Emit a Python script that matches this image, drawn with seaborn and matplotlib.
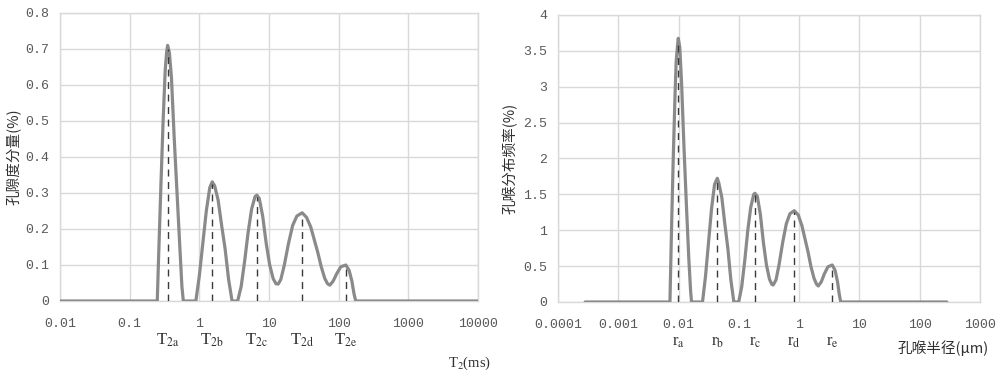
import numpy as np
import pandas as pd
import matplotlib
matplotlib.use("Agg")
import matplotlib.pyplot as plt
import matplotlib.ticker as mticker
import matplotlib.transforms as mtrans
import seaborn as sns

# ---------------- data ----------------
# Left: T2 spectrum, x given as log10(T2 / ms)
left_log_t2 = [-2.0, -0.604, -0.58, -0.55, -0.52, -0.49, -0.47, -0.455, -0.43, -0.40,
               -0.36, -0.32, -0.28, -0.25, -0.23, -0.05, 0.00, 0.05, 0.10, 0.15,
               0.185, 0.22, 0.27, 0.32, 0.37, 0.42, 0.47, 0.55, 0.60, 0.65,
               0.70, 0.75, 0.80, 0.826, 0.86, 0.91, 0.96, 1.01, 1.06, 1.10,
               1.132, 1.17, 1.22, 1.28, 1.34, 1.40, 1.476, 1.54, 1.60, 1.65,
               1.70, 1.75, 1.80, 1.84, 1.874, 1.92, 1.97, 2.03, 2.103, 2.15,
               2.19, 2.22, 2.245, 4.0]
left_vals = [0, 0, 0.15, 0.33, 0.50, 0.64, 0.69, 0.71, 0.69, 0.62,
             0.45, 0.30, 0.15, 0.04, 0, 0, 0.07, 0.16, 0.25, 0.315,
             0.331, 0.32, 0.28, 0.21, 0.145, 0.06, 0, 0, 0.04, 0.11,
             0.19, 0.255, 0.29, 0.294, 0.285, 0.235, 0.16, 0.10, 0.062, 0.048,
             0.047, 0.06, 0.10, 0.16, 0.21, 0.236, 0.245, 0.232, 0.205, 0.17,
             0.135, 0.095, 0.063, 0.048, 0.044, 0.055, 0.075, 0.095, 0.100, 0.085,
             0.055, 0.02, 0, 0]
left_peak_log = [-0.455, 0.185, 0.826, 1.476, 2.103]
left_peak_vals = [0.71, 0.331, 0.294, 0.245, 0.100]
left_peak_labels = [r"T$_{\mathrm{2a}}$", r"T$_{\mathrm{2b}}$", r"T$_{\mathrm{2c}}$",
                    r"T$_{\mathrm{2d}}$", r"T$_{\mathrm{2e}}$"]
left_xticks = [0.01, 0.1, 1, 10, 100, 1000, 10000]
left_yticks = [0, 0.1, 0.2, 0.3, 0.4, 0.5, 0.6, 0.7, 0.8]

# Right: pore-throat radius distribution, x given as log10(r / um)
right_log_r = [-3.55, -2.143, -2.12, -2.09, -2.06, -2.04, -2.02, -2.005, -1.98, -1.95,
               -1.91, -1.87, -1.83, -1.80, -1.785, -1.603, -1.553, -1.503, -1.453, -1.403,
               -1.358, -1.333, -1.283, -1.233, -1.183, -1.133, -1.083, -1.003, -0.953, -0.903,
               -0.853, -0.803, -0.753, -0.733, -0.693, -0.643, -0.593, -0.543, -0.493, -0.453,
               -0.43, -0.383, -0.333, -0.273, -0.213, -0.153, -0.081, -0.013, 0.047, 0.097,
               0.147, 0.197, 0.247, 0.287, 0.317, 0.367, 0.417, 0.477, 0.549, 0.597,
               0.637, 0.667, 0.69, 2.45]
right_vals = [0, 0, 0.9, 1.95, 2.85, 3.35, 3.55, 3.675, 3.55, 3.05,
              2.15, 1.35, 0.6, 0.15, 0, 0, 0.36, 0.83, 1.30, 1.64,
              1.724, 1.66, 1.46, 1.09, 0.75, 0.31, 0, 0, 0.21, 0.57,
              0.99, 1.32, 1.50, 1.515, 1.47, 1.22, 0.83, 0.52, 0.32, 0.245,
              0.237, 0.31, 0.52, 0.83, 1.09, 1.23, 1.273, 1.21, 1.06, 0.88,
              0.70, 0.49, 0.33, 0.25, 0.223, 0.28, 0.39, 0.49, 0.516, 0.44,
              0.28, 0.10, 0, 0]
right_peak_log = [-2.005, -1.358, -0.733, -0.081, 0.549]
right_peak_vals = [3.675, 1.724, 1.515, 1.273, 0.516]
right_peak_labels = [r"r$_{\mathrm{a}}$", r"r$_{\mathrm{b}}$", r"r$_{\mathrm{c}}$",
                     r"r$_{\mathrm{d}}$", r"r$_{\mathrm{e}}$"]
right_xticks = [0.0001, 0.001, 0.01, 0.1, 1, 10, 100, 1000]
right_yticks = [0, 0.5, 1, 1.5, 2, 2.5, 3, 3.5, 4]

left_xlabel = r"T$_{\mathrm{2}}$(ms)"
left_ylabel = "孔隙度分量(%)"
right_xlabel = "孔喉半径(μm)"
right_ylabel = "孔喉分布频率(%)"

# ---------------- style ----------------
sns.set_theme(style="white")
plt.rcParams["font.family"] = ["Noto Sans CJK SC", "DejaVu Sans"]
plt.rcParams["mathtext.fontset"] = "stix"

CURVE = "#8a8a8a"
DASH = "#3a3a3a"
GRID = "#d9d9d9"
TICK = "#595959"
TICKFONT = ["Liberation Mono", "DejaVu Sans Mono"]

fig = plt.figure(figsize=(10, 3.7), dpi=100)
ax1 = fig.add_axes([0.060, 0.1865, 0.418, 0.7784])
ax2 = fig.add_axes([0.558, 0.1838, 0.422, 0.7757])

left_df = pd.DataFrame({"x": np.power(10.0, left_log_t2), "y": left_vals})
right_df = pd.DataFrame({"x": np.power(10.0, right_log_r), "y": right_vals})


def style_axes(ax, xticks, yticks):
    ax.set_xscale("log")
    ax.set_xlim(xticks[0], xticks[-1])
    ax.set_ylim(yticks[0], yticks[-1])
    ax.set_xticks(xticks)
    ax.set_yticks(yticks)
    ax.xaxis.set_minor_locator(mticker.NullLocator())
    ax.set_xticklabels([f"{v:g}" for v in xticks])
    ax.set_yticklabels([f"{v:g}" for v in yticks])
    ax.grid(True, color=GRID, linewidth=1.0)
    ax.set_axisbelow(True)
    for s in ax.spines.values():
        s.set_visible(True)
        s.set_color(GRID)
        s.set_linewidth(1.0)
    ax.tick_params(axis="both", length=0, labelcolor=TICK, labelsize=9.5)
    ax.tick_params(axis="x", pad=12)
    ax.tick_params(axis="y", pad=8)
    for lab in ax.get_xticklabels() + ax.get_yticklabels():
        lab.set_fontfamily(TICKFONT)


def draw(ax, df, peak_log, peak_vals, peak_labels, label_y):
    sns.lineplot(data=df, x="x", y="y", ax=ax, color=CURVE, linewidth=2.3,
                 estimator=None, sort=False, zorder=3)
    px = np.power(10.0, peak_log)
    ax.vlines(px, 0, np.array(peak_vals) * 0.985, colors=DASH, linewidth=1.0,
              linestyles=(0, (5, 4)), zorder=4)
    trans = mtrans.blended_transform_factory(ax.transData, ax.transAxes)
    for x, lab in zip(px, peak_labels):
        ax.text(x, label_y, lab, transform=trans, ha="center", va="center",
                fontsize=12, color="#303030", family=["Liberation Serif", "DejaVu Serif"])
    ax.set_xlabel("")
    ax.set_ylabel("")


draw(ax1, left_df, left_peak_log, left_peak_vals, left_peak_labels, -0.135)
draw(ax2, right_df, right_peak_log, right_peak_vals, right_peak_labels, -0.139)

style_axes(ax1, left_xticks, left_yticks)
style_axes(ax2, right_xticks, right_yticks)

ax1.set_xlabel(left_xlabel, fontsize=10.5, color="#303030",
               family=["Liberation Serif", "DejaVu Serif"], va="center")
ax1.xaxis.set_label_coords(0.981, -0.215)
ax1.set_ylabel(left_ylabel, fontsize=10.5, color="#303030", va="center")
ax1.yaxis.set_label_coords(-0.110, 0.5)

ax2.set_xlabel(right_xlabel, fontsize=10.5, color="#303030", va="center")
ax2.xaxis.set_label_coords(0.912, -0.160)
ax2.set_ylabel(right_ylabel, fontsize=10.5, color="#303030", va="center")
ax2.yaxis.set_label_coords(-0.114, 0.5)

fig.savefig("out.png", dpi=100, facecolor="white")
